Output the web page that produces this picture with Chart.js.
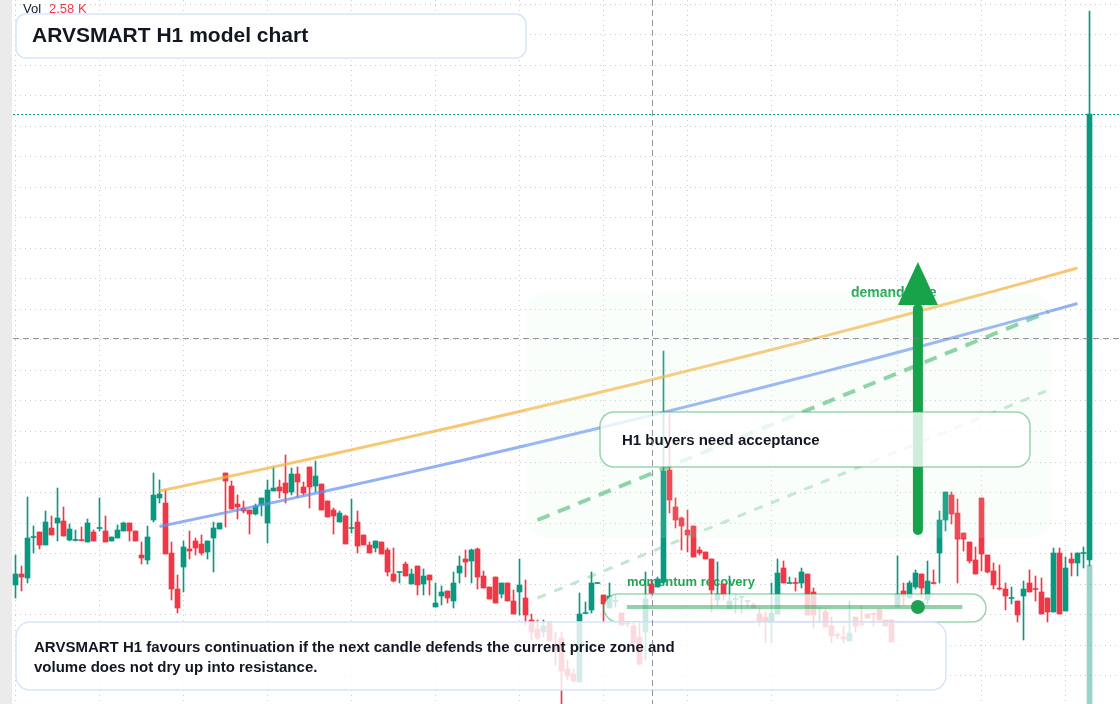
<!DOCTYPE html>
<html>
<head>
<meta charset="utf-8">
<title>ARVSMART H1 model chart</title>
<script src="https://cdn.jsdelivr.net/npm/chart.js@4.4.0/dist/chart.umd.min.js"></script>
<style>
  html, body { margin: 0; padding: 0; background: #ffffff; }
  #wrap { position: relative; width: 1120px; height: 704px; overflow: hidden; }
</style>
</head>
<body>
<div id="wrap"><canvas id="chart" width="1120" height="704"></canvas></div>
<script>
// H1 candles (price units)
const opens = [
  21.5, 22.6, 22.2, 26.25, 26.8, 25.5, 27.2, 27.7, 27.9, 26.0,
  25.95, 26.0, 25.8, 26.8, 27.15, 26.9, 25.9, 26.2, 26.9, 27.7,
  26.9, 24.5, 24.0, 28.0, 30.2, 29.7, 24.7, 21.1, 23.3, 25.1,
  25.9, 25.6, 24.8, 26.2, 27.1, 32.7, 31.4, 29.6, 29.2, 29.0,
  28.6, 29.5, 27.7, 30.9, 31.3, 31.7, 30.8, 32.6, 31.3, 33.3,
  31.4, 31.6, 29.9, 29.0, 27.8, 28.4, 27.15, 27.8, 26.5, 25.5,
  25.2, 25.8, 25.0, 22.6, 22.75, 23.6, 21.6, 23.4, 21.6, 22.5,
  19.3, 20.4, 20.9, 19.9, 22.7, 24.1, 23.9, 25.1, 22.4, 21.3,
  22.3, 20.6, 21.7, 19.9, 20.8, 20.2, 18.0, 17.1, 16.8, 17.8,
  15.5, 16.2, 13.1, 12.6, 11.8, 18.65, 19.0, 21.65, 20.5, 19.2,
  19.85, 18.7, 17.65, 17.4, 16.3, 16.8, 21.6, 21.3, 21.8, 33.0,
  29.3, 28.2, 27.0, 27.4, 25.0, 24.8, 24.1, 20.0, 21.6, 19.1,
  20.05, 20.25, 19.85, 19.5, 18.6, 18.3, 17.8, 18.6, 23.2, 21.65,
  21.7, 21.7, 22.6, 20.8, 19.15, 18.8, 17.4, 16.5, 16.3, 15.9,
  18.3, 17.6, 18.6, 18.6, 19.1, 18.0, 18.0, 19.3, 20.9, 20.2,
  21.3, 22.6, 20.0, 21.7, 24.7, 28.0, 30.5, 28.7, 26.7, 25.8,
  24.0, 30.2, 24.5, 22.9, 21.15, 21.1, 20.15, 19.9, 20.4, 21.7,
  21.1, 20.8, 20.2, 18.8, 24.7, 18.9, 24.1, 23.7, 24.65, 24.0
];
const highs = [
  24.5, 23.4, 30.3, 27.4, 26.8, 28.9, 28.4, 31.2, 29.3, 27.6,
  27.0, 27.3, 28.1, 27.0, 30.2, 28.4, 26.3, 27.5, 27.8, 27.7,
  26.9, 25.8, 27.4, 32.7, 32.0, 31.0, 25.8, 22.5, 25.9, 26.9,
  26.2, 26.5, 25.9, 27.8, 27.7, 32.7, 31.9, 30.5, 29.9, 29.0,
  29.6, 30.2, 32.0, 33.3, 32.0, 34.5, 33.2, 33.3, 31.8, 33.3,
  33.9, 31.6, 29.9, 29.2, 28.9, 28.5, 30.1, 28.9, 26.5, 25.8,
  25.9, 25.8, 25.2, 25.2, 22.8, 23.8, 23.1, 23.4, 23.1, 22.5,
  21.7, 21.4, 20.9, 22.8, 24.4, 25.0, 25.1, 25.2, 22.9, 21.3,
  22.3, 21.7, 21.7, 21.0, 24.1, 22.0, 18.6, 18.0, 18.0, 17.8,
  16.8, 16.8, 14.0, 13.1, 20.7, 19.8, 22.8, 21.7, 20.5, 21.7,
  20.5, 18.7, 17.9, 17.7, 17.7, 22.8, 22.0, 22.3, 44.9, 38.7,
  30.2, 28.3, 29.0, 27.4, 25.3, 24.8, 24.1, 23.8, 21.6, 22.4,
  20.5, 20.4, 19.9, 19.7, 19.2, 18.8, 21.7, 24.1, 23.9, 22.3,
  22.2, 23.2, 22.6, 21.2, 19.2, 19.2, 18.3, 16.7, 17.4, 19.9,
  18.3, 19.4, 18.6, 18.7, 19.1, 18.0, 18.0, 24.4, 21.7, 21.9,
  23.0, 22.6, 23.9, 23.0, 28.9, 30.8, 30.8, 30.1, 26.7, 25.8,
  25.3, 30.2, 24.5, 23.7, 23.5, 21.7, 21.3, 19.9, 21.9, 23.0,
  22.4, 22.2, 20.2, 25.2, 25.2, 24.3, 24.7, 24.7, 25.3, 78.9
];
const lows = [
  20.2, 20.9, 21.7, 24.7, 25.1, 25.5, 26.5, 25.9, 26.4, 25.9,
  25.9, 25.9, 25.8, 25.9, 26.9, 25.8, 25.9, 26.2, 26.9, 25.9,
  25.9, 23.6, 23.6, 27.8, 29.7, 24.6, 20.0, 18.7, 20.8, 24.1,
  24.5, 24.5, 24.1, 22.8, 27.1, 27.3, 29.1, 28.1, 28.7, 26.6,
  28.5, 28.4, 25.7, 30.9, 30.2, 29.7, 30.5, 30.3, 30.5, 29.2,
  30.8, 29.0, 28.3, 26.6, 27.8, 25.6, 26.7, 24.7, 25.5, 24.7,
  24.8, 24.6, 22.4, 21.8, 21.7, 22.4, 21.6, 20.5, 20.5, 20.5,
  19.3, 19.5, 19.7, 19.2, 21.7, 22.3, 21.7, 21.1, 21.2, 20.1,
  19.7, 20.2, 19.9, 18.6, 18.5, 17.5, 16.0, 16.0, 16.3, 15.9,
  13.5, 9.6, 12.0, 11.8, 11.8, 18.65, 18.7, 21.65, 17.8, 19.2,
  19.3, 17.5, 17.3, 15.7, 13.5, 14.0, 20.2, 21.3, 21.5, 28.7,
  27.2, 25.0, 24.8, 24.3, 24.5, 24.1, 18.8, 19.5, 20.0, 19.1,
  18.7, 18.7, 19.2, 19.2, 17.4, 15.7, 15.7, 18.6, 21.7, 21.65,
  20.9, 21.2, 18.5, 17.2, 17.8, 17.3, 15.7, 16.1, 15.7, 15.9,
  16.8, 17.5, 18.2, 17.4, 18.0, 17.4, 15.8, 19.3, 19.5, 20.2,
  21.1, 20.2, 19.6, 21.6, 21.7, 26.9, 27.6, 21.7, 24.9, 23.7,
  22.6, 22.9, 22.7, 21.1, 21.0, 19.0, 19.6, 17.8, 16.0, 20.8,
  19.9, 18.6, 17.8, 18.8, 18.6, 18.9, 22.4, 22.4, 23.2, 23.4
];
const closes = [
  22.6, 22.3, 26.2, 26.3, 25.5, 27.8, 26.5, 28.2, 26.4, 27.1,
  26.0, 25.93, 27.7, 25.9, 27.2, 25.8, 26.3, 27.0, 27.7, 26.9,
  25.9, 24.2, 26.3, 30.5, 30.6, 24.6, 21.1, 19.2, 25.3, 24.9,
  25.2, 24.7, 25.9, 27.2, 27.7, 31.9, 29.1, 29.3, 28.9, 28.6,
  29.4, 30.2, 31.0, 31.2, 30.9, 30.7, 32.6, 31.8, 30.7, 31.3,
  32.4, 29.0, 28.3, 28.4, 28.7, 25.6, 27.2, 25.4, 25.5, 24.7,
  25.9, 24.6, 22.8, 21.9, 22.8, 22.4, 22.6, 21.5, 22.4, 22.0,
  19.7, 20.8, 20.2, 21.7, 23.4, 23.8, 25.0, 22.3, 21.2, 20.1,
  19.7, 21.7, 19.9, 18.6, 21.5, 18.5, 16.8, 16.2, 17.4, 15.9,
  15.0, 12.9, 12.4, 11.9, 18.6, 18.7, 21.7, 21.7, 19.6, 20.4,
  19.9, 17.5, 17.6, 15.7, 13.6, 20.1, 20.7, 22.1, 32.9, 30.0,
  28.0, 27.4, 26.5, 24.3, 24.7, 24.1, 21.0, 20.6, 20.5, 19.9,
  20.1, 20.3, 19.9, 19.2, 17.9, 17.9, 18.7, 22.7, 21.7, 21.7,
  21.65, 22.8, 18.5, 18.5, 19.2, 17.3, 16.4, 16.45, 16.1, 16.7,
  17.4, 17.55, 18.2, 18.55, 18.0, 17.4, 15.8, 20.6, 20.4, 21.7,
  22.7, 21.2, 21.9, 21.65, 28.0, 30.8, 28.6, 26.1, 26.1, 23.9,
  22.6, 24.6, 22.8, 21.5, 21.1, 20.4, 20.2, 18.5, 21.1, 20.8,
  21.05, 18.6, 18.8, 24.7, 18.6, 23.2, 23.7, 24.7, 24.7, 68.6
];

// volume pane: only the last bar rises into view (thousands)
const volumeIdx = [179];
const volumeK = [48.6];
const crossVolumeK = 2.58;

// overlay studies (bar index, price)
const trendIdx = [24, 44, 64, 84, 104, 124, 144, 164, 177];
const upperTrend = [30.9, 33.44, 36.09, 38.85, 41.73, 44.72, 47.83, 51.04, 53.2];
const lowerTrend = [27.35, 29.89, 32.54, 35.3, 38.18, 41.17, 44.28, 47.49, 49.65];
const pathIdx = [87, 172.2];
const strongPath = [28.0, 48.83];
const weakPath = [20.2, 41.0];

const zoneIdx = [85.1, 172.75];
const zonePrice = [26.2, 50.8];
const arrowIdx = 150.4;
const arrowPrice = [27.0, 49.5, 53.8]; // tail, head base, tip
const recoveryIdx = [101.9, 157.8];
const recoveryPrice = 19.3;

const crossIdx = 106;
const crossPrice = 46.2;

// grid (no labels shown in the picture)
const gridIdx = [0, 14, 28, 42, 56, 70, 84, 98, 112, 126, 147, 161, 175];
const gridPrices = [79.59, 76.54, 73.49, 70.44, 67.38, 64.33, 61.28, 58.22, 55.17, 52.12,
  49.06, 46.01, 42.96, 39.91, 36.85, 33.80, 30.75, 27.70, 24.64, 21.59, 18.54, 15.48, 12.43];

const UP = '#089981';
const DOWN = '#F23645';
const FONT = '"Liberation Sans", Arial, sans-serif';

const idx = opens.map((_, i) => i);
const candleColors = idx.map(i => closes[i] >= opens[i] ? UP : DOWN);

function rr(ctx, x, y, w, h, r) {
  ctx.beginPath();
  ctx.roundRect(x, y, w, h, r);
}

const overlays = {
  id: 'overlays',
  beforeDatasetsDraw(chart) {
    const { ctx } = chart;
    ctx.save();
    ctx.textBaseline = 'middle';
    ctx.font = 'bold 13px ' + FONT;
    ctx.fillStyle = '#22a652';
    ctx.fillText('momentum recovery', 627, 582);
    ctx.font = 'bold 14px ' + FONT;
    ctx.fillText('demand side', 851, 293);
    ctx.restore();
  },
  afterDatasetsDraw(chart) {
    const { ctx, scales: { x, y } } = chart;
    ctx.save();

    // faint demand zone
    const zx0 = x.getPixelForValue(zoneIdx[0]), zx1 = x.getPixelForValue(zoneIdx[1]);
    const zy0 = y.getPixelForValue(zonePrice[1]), zy1 = y.getPixelForValue(zonePrice[0]);
    rr(ctx, zx0, zy0, zx1 - zx0, zy1 - zy0, 22);
    ctx.fillStyle = 'rgba(210,244,220,0.12)';
    ctx.fill();

    // up arrow
    const ax = x.getPixelForValue(arrowIdx);
    const aTail = y.getPixelForValue(arrowPrice[0]);
    const aBase = y.getPixelForValue(arrowPrice[1]);
    const aTip = y.getPixelForValue(arrowPrice[2]);
    ctx.strokeStyle = '#16a34a';
    ctx.lineWidth = 10;
    ctx.lineCap = 'round';
    ctx.beginPath();
    ctx.moveTo(ax, aTail);
    ctx.lineTo(ax, aBase + 4);
    ctx.stroke();
    ctx.fillStyle = '#16a34a';
    ctx.beginPath();
    ctx.moveTo(ax - 20, aBase);
    ctx.lineTo(ax + 20, aBase);
    ctx.lineTo(ax, aTip);
    ctx.closePath();
    ctx.fill();

    // note boxes
    ctx.lineWidth = 1.5;
    rr(ctx, 600, 412, 430, 55, 14);
    ctx.fillStyle = 'rgba(255,255,255,0.8)';
    ctx.fill();
    ctx.strokeStyle = 'rgba(34,163,80,0.45)';
    ctx.stroke();

    rr(ctx, 604, 594, 382, 28, 14);
    ctx.fillStyle = 'rgba(255,255,255,0.78)';
    ctx.fill();
    ctx.stroke();

    rr(ctx, 16, 622, 930, 68, 14);
    ctx.fillStyle = 'rgba(255,255,255,0.82)';
    ctx.fill();
    ctx.strokeStyle = '#d7e5fa';
    ctx.stroke();

    rr(ctx, 16, 14, 510, 44, 10);
    ctx.fillStyle = 'rgba(255,255,255,0.94)';
    ctx.fill();
    ctx.stroke();

    // recovery track + marker
    const ry = y.getPixelForValue(recoveryPrice);
    ctx.strokeStyle = 'rgba(34,163,80,0.5)';
    ctx.lineWidth = 4;
    ctx.lineCap = 'butt';
    ctx.beginPath();
    ctx.moveTo(x.getPixelForValue(recoveryIdx[0]), ry);
    ctx.lineTo(x.getPixelForValue(recoveryIdx[1]), ry);
    ctx.stroke();
    ctx.fillStyle = '#22a052';
    ctx.beginPath();
    ctx.arc(ax, ry, 7, 0, Math.PI * 2);
    ctx.fill();

    // texts
    ctx.textBaseline = 'middle';
    ctx.fillStyle = '#131722';
    ctx.font = 'bold 21px ' + FONT;
    ctx.fillText('ARVSMART H1 model chart', 32, 36);
    ctx.font = 'bold 15px ' + FONT;
    ctx.fillText('H1 buyers need acceptance', 622, 441);
    ctx.fillText('ARVSMART H1 favours continuation if the next candle defends the current price zone and', 34, 648);
    ctx.fillText('volume does not dry up into resistance.', 34, 668);

    // last price line
    const lp = Math.round(y.getPixelForValue(closes[closes.length - 1])) + 0.5;
    ctx.strokeStyle = '#0a9c84';
    ctx.lineWidth = 1;
    ctx.setLineDash([2, 2]);
    ctx.beginPath();
    ctx.moveTo(13, lp);
    ctx.lineTo(1120, lp);
    ctx.stroke();

    // crosshair
    const cx = Math.round(x.getPixelForValue(crossIdx)) + 0.5;
    const cy = Math.round(y.getPixelForValue(crossPrice)) + 0.5;
    ctx.strokeStyle = 'rgba(120,123,134,0.8)';
    ctx.setLineDash([6, 4]);
    ctx.beginPath();
    ctx.moveTo(cx, 0);
    ctx.lineTo(cx, 704);
    ctx.moveTo(13, cy);
    ctx.lineTo(1120, cy);
    ctx.stroke();
    ctx.setLineDash([]);

    // left edge strip
    ctx.fillStyle = '#ebebeb';
    ctx.fillRect(0, 0, 12, 704);

    // volume readout
    ctx.font = '13px ' + FONT;
    ctx.fillStyle = '#131722';
    ctx.fillText('Vol', 23, 9);
    ctx.fillStyle = DOWN;
    ctx.fillText(crossVolumeK.toFixed(2) + ' K', 49, 9);
    ctx.restore();
  }
};

const gridStyle = {
  color: 'rgba(165,170,180,0.6)',
  lineWidth: 1,
  drawTicks: false,
  offset: false
};

new Chart(document.getElementById('chart'), {
  type: 'bar',
  data: {
    datasets: [
      {
        type: 'line', label: 'upper trend',
        data: trendIdx.map((v, k) => ({ x: v, y: upperTrend[k] })),
        borderColor: 'rgba(246,180,70,0.75)', borderWidth: 3,
        pointRadius: 0, tension: 0.4, order: 0
      },
      {
        type: 'line', label: 'lower trend',
        data: trendIdx.map((v, k) => ({ x: v, y: lowerTrend[k] })),
        borderColor: 'rgba(100,145,240,0.7)', borderWidth: 3,
        pointRadius: 0, tension: 0.4, order: 0
      },
      {
        type: 'line', label: 'strong path',
        data: pathIdx.map((v, k) => ({ x: v, y: strongPath[k] })),
        borderColor: 'rgba(34,170,85,0.55)', borderWidth: 4, borderDash: [13, 9],
        pointRadius: 0, order: 0
      },
      {
        type: 'line', label: 'weak path',
        data: pathIdx.map((v, k) => ({ x: v, y: weakPath[k] })),
        borderColor: 'rgba(34,170,85,0.28)', borderWidth: 3, borderDash: [9, 9],
        pointRadius: 0, order: 0
      },
      {
        label: 'body',
        data: idx.map(i => ({ x: i, y: [opens[i], closes[i]] })),
        backgroundColor: candleColors,
        barThickness: 5, minBarLength: 1, grouped: false, order: 1
      },
      {
        label: 'wick',
        data: idx.map(i => ({ x: i, y: [lows[i], highs[i]] })),
        backgroundColor: candleColors,
        barThickness: 1, minBarLength: 1, grouped: false, order: 2
      },
      {
        label: 'volume', yAxisID: 'yVol',
        data: volumeIdx.map((v, k) => ({ x: v, y: volumeK[k] })),
        backgroundColor: 'rgba(8,153,129,0.42)',
        barThickness: 5, grouped: false, order: 3
      }
    ]
  },
  options: {
    responsive: false,
    animation: false,
    devicePixelRatio: 1,
    events: [],
    layout: { padding: 0 },
    plugins: { legend: { display: false }, tooltip: { enabled: false } },
    scales: {
      x: {
        type: 'linear', min: -2.583, max: 184.083, offset: false,
        grid: gridStyle,
        border: { display: false, dash: [1, 4] },
        ticks: { display: false },
        afterBuildTicks: s => { s.ticks = gridIdx.map(v => ({ value: v })); }
      },
      y: {
        type: 'linear', min: 9.6, max: 80,
        grid: gridStyle,
        border: { display: false, dash: [1, 4] },
        ticks: { display: false },
        afterBuildTicks: s => { s.ticks = gridPrices.map(v => ({ value: v })); }
      },
      yVol: { type: 'linear', display: false, min: 10, max: 205.5 }
    }
  },
  plugins: [overlays]
});
</script>
</body>
</html>
